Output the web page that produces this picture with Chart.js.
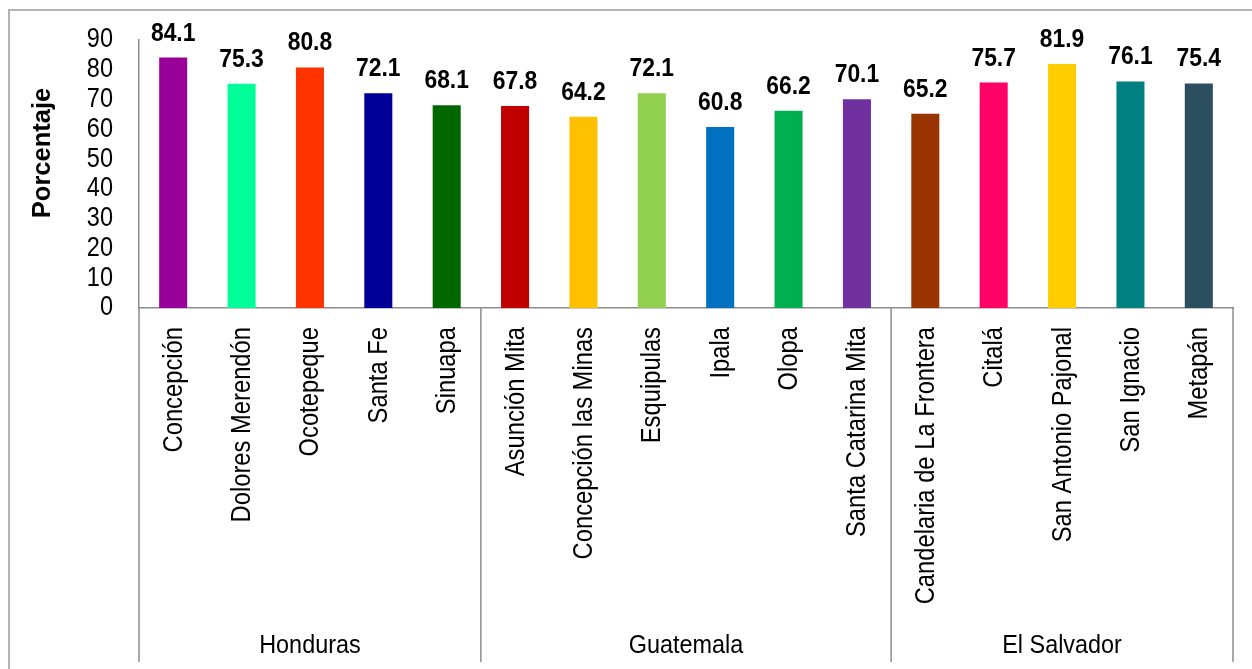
<!DOCTYPE html>
<html lang="es">
<head>
<meta charset="UTF-8">
<title>Porcentaje por municipio</title>
<script src="https://cdn.jsdelivr.net/npm/chart.js"></script>
<style>
  html, body { margin: 0; padding: 0; background: #fff; }
  canvas { display: block; }
</style>
</head>
<body>
<canvas id="chart" width="1252" height="669"></canvas>
<script>
const categories = ['Concepción', 'Dolores Merendón', 'Ocotepeque', 'Santa Fe', 'Sinuapa',
  'Asunción Mita', 'Concepción las Minas', 'Esquipulas', 'Ipala', 'Olopa', 'Santa Catarina Mita',
  'Candelaria de La Frontera', 'Citalá', 'San Antonio Pajonal', 'San Ignacio', 'Metapán']
const values = [84.1, 75.3, 80.8, 72.1, 68.1, 67.8, 64.2, 72.1, 60.8, 66.2, 70.1, 65.2, 75.7, 81.9, 76.1, 75.4]
const barColors = ['#990099', '#00FF99', '#FF3300', '#000099', '#006600', '#C00000', '#FFC000', '#92D050',
  '#0070C0', '#00B050', '#7030A0', '#993300', '#FF0066', '#FFCC00', '#008080', '#2B4F5F']
const groups = ['Honduras', 'Guatemala', 'El Salvador']
const groupSizes = [5, 6, 5]
const yTicks = [0, 10, 20, 30, 40, 50, 60, 70, 80, 90]

// no Arial Narrow here, so Liberation Sans gets squeezed a bit when drawn
const FONT = "'Liberation Sans', Arial, sans-serif"
const AXIS_GRAY = '#8c8c8c'

function drawText (ctx, text, x, y, o) {
  ctx.save()
  ctx.translate(x, y)
  if (o.rot) ctx.rotate(o.rot)
  ctx.scale(o.sx || 1, 1)
  ctx.font = o.font
  ctx.fillStyle = '#000'
  ctx.textAlign = o.align || 'center'
  ctx.textBaseline = o.baseline || 'alphabetic'
  ctx.fillText(text, 0, 0)
  ctx.restore()
}

const decorations = {
  id: 'decorations',
  afterDraw (chart) {
    const ctx = chart.ctx
    const x = chart.scales.x
    const y = chart.scales.y
    const area = chart.chartArea
    ctx.save()

    // outer frame (only left and top show in the original)
    ctx.strokeStyle = '#b3b3b3'
    ctx.lineWidth = 2
    ctx.beginPath()
    ctx.moveTo(9, 669)
    ctx.lineTo(9, 10)
    ctx.lineTo(1252, 10)
    ctx.stroke()

    // group separators below the axis
    ctx.strokeStyle = AXIS_GRAY
    ctx.lineWidth = 1.5
    const half = (x.getPixelForValue(1) - x.getPixelForValue(0)) / 2
    let idx = 0
    const bounds = [x.getPixelForValue(0) - half]
    groupSizes.forEach(n => {
      idx += n
      bounds.push(x.getPixelForValue(idx - 1) + half)
    })
    bounds.forEach(b => {
      ctx.beginPath()
      ctx.moveTo(b, area.bottom)
      ctx.lineTo(b, 662)
      ctx.stroke()
    })
    ctx.restore()

    // y tick labels
    yTicks.forEach(v => {
      drawText(ctx, String(v), 113, y.getPixelForValue(v), { font: '27px ' + FONT, sx: 0.87, align: 'right', baseline: 'middle' })
    })

    // category labels, read bottom to top, ending under the axis
    categories.forEach((c, i) => {
      drawText(ctx, c, x.getPixelForValue(i) + 1, 327, { font: '27px ' + FONT, sx: 0.88, rot: -Math.PI / 2, align: 'right', baseline: 'middle' })
    })

    // group names
    groups.forEach((g, i) => {
      drawText(ctx, g, (bounds[i] + bounds[i + 1]) / 2, 653, { font: '26px ' + FONT, sx: 0.9 })
    })

    // value labels
    chart.getDatasetMeta(0).data.forEach((bar, i) => {
      drawText(ctx, values[i].toFixed(1), bar.x, bar.y - 17, { font: 'bold 26px ' + FONT, sx: 0.88 })
    })

    // y axis title
    drawText(ctx, 'Porcentaje', 43, 153, { font: 'bold 26px ' + FONT, sx: 0.98, rot: -Math.PI / 2, baseline: 'middle' })
  }
}

new Chart(document.getElementById('chart'), {
  type: 'bar',
  data: {
    labels: categories,
    datasets: [{
      data: values,
      backgroundColor: barColors,
      borderWidth: 0,
      barPercentage: 0.41,
      categoryPercentage: 1
    }]
  },
  options: {
    responsive: false,
    animation: false,
    events: [],
    layout: { padding: { top: 40, right: 19, bottom: 0, left: 0 } },
    plugins: { legend: { display: false }, tooltip: { enabled: false } },
    scales: {
      x: {
        afterFit: s => { s.height = 361 },
        grid: { display: false, drawTicks: false },
        border: { display: true, color: AXIS_GRAY, width: 1.5 },
        ticks: { display: false }
      },
      y: {
        min: 0,
        max: yTicks[yTicks.length - 1],
        afterFit: s => { s.width = 139 },
        grid: { display: false, drawTicks: false },
        border: { display: true, color: AXIS_GRAY, width: 1.5 },
        ticks: { display: false, stepSize: 10 }
      }
    }
  },
  plugins: [decorations]
})
</script>
</body>
</html>
